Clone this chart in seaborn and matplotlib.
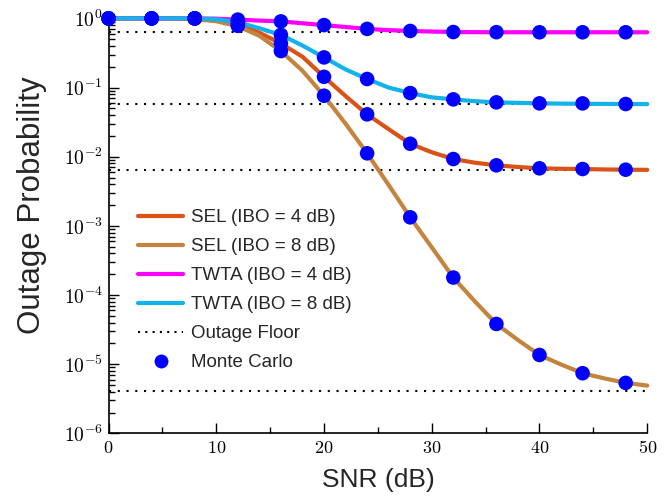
import math
import matplotlib
matplotlib.use('Agg')
import matplotlib.pyplot as plt
import seaborn as sns
import pandas as pd
from matplotlib.lines import Line2D
from matplotlib.ticker import FixedLocator, FuncFormatter, LogLocator, NullFormatter

# analytical curves, every 2 dB
snr = [0, 2, 4, 6, 8, 10, 12, 14, 16, 18, 20, 22, 24, 26, 28, 30, 32, 34, 36, 38, 40, 42, 44, 46, 48, 50]
sel_4 = [1.0, 1.0, 1.0, 0.998, 0.985, 0.93, 0.82, 0.62, 0.435, 0.279, 0.143, 0.0753, 0.041, 0.025, 0.0154,
         0.0116, 0.00926, 0.0082, 0.00751, 0.0071, 0.0068, 0.0067, 0.00664, 0.00655, 0.00649, 0.00646]
sel_8 = [1.0, 1.0, 1.0, 0.995, 0.975, 0.91, 0.77, 0.56, 0.337, 0.175, 0.0762, 0.030, 0.0112, 3.9e-3, 1.33e-3,
         4.9e-4, 1.79e-4, 8.1e-5, 3.82e-5, 2.24e-5, 1.36e-5, 9.9e-6, 7.41e-6, 6.25e-6, 5.37e-6, 4.91e-6]
twta_4 = [1.0, 1.0, 1.0, 1.0, 1.0, 0.99, 0.96, 0.93, 0.905, 0.85, 0.80, 0.75, 0.705, 0.675, 0.658,
          0.645, 0.636, 0.632, 0.631, 0.63, 0.63, 0.63, 0.63, 0.63, 0.63, 0.63]
twta_8 = [1.0, 1.0, 1.0, 1.0, 0.995, 0.97, 0.88, 0.72, 0.577, 0.405, 0.273, 0.183, 0.133, 0.100, 0.0833,
          0.0722, 0.0675, 0.0635, 0.0611, 0.060, 0.0591, 0.0586, 0.0582, 0.058, 0.0578, 0.0577]

# Monte Carlo points
snr_mc = [0, 4, 8, 12, 16, 20, 24, 28, 32, 36, 40, 44, 48]
sel_4_mc = [1.0, 1.0, 1.0, 0.83, 0.435, 0.143, 0.041, 0.0154, 0.00926, 0.00751, 0.0068, 0.00664, 0.00649]
sel_8_mc = [1.0, 1.0, 1.0, 0.78, 0.337, 0.0762, 0.0112, 1.33e-3, 1.79e-4, 3.82e-5, 1.36e-5, 7.41e-6, 5.37e-6]
twta_4_mc = [1.0, 1.0, 1.0, 0.96, 0.905, 0.80, 0.705, 0.658, 0.635, 0.632, 0.63, 0.63, 0.63]
twta_8_mc = [1.0, 1.0, 1.0, 0.89, 0.577, 0.273, 0.133, 0.0833, 0.0675, 0.0611, 0.0591, 0.059, 0.0578]

floors = [0.628, 0.0575, 0.00642, 4.16e-6]

labels = ['SEL (IBO = 4 dB)', 'SEL (IBO = 8 dB)', 'TWTA (IBO = 4 dB)', 'TWTA (IBO = 8 dB)']
colors = ['#D95319', '#C4843F', '#FF00FF', '#12B2EA']

sns.set_theme(style='ticks')
plt.rcParams['font.family'] = ['Liberation Sans', 'DejaVu Sans']
plt.rcParams['mathtext.fontset'] = 'cm'

fig = plt.figure(figsize=(6.7, 4.97), dpi=100)
ax = fig.add_axes([0.162, 0.128, 0.804, 0.835])

curves = [sel_4, sel_8, twta_4, twta_8]
for vals, lab, col in zip(curves, labels, colors):
    sns.lineplot(x=snr, y=vals, ax=ax, color=col, linewidth=3, label=lab, clip_on=False, zorder=3)

for fl in floors:
    ax.axhline(fl, color='black', linestyle=(0, (1, 3.2)), linewidth=1.5, zorder=2)

mc_all = pd.DataFrame({
    'snr': snr_mc * 4,
    'p': sel_4_mc + sel_8_mc + twta_4_mc + twta_8_mc,
})
sns.scatterplot(data=mc_all, x='snr', y='p', ax=ax, color='#0000FF', s=110, edgecolor='none',
                clip_on=False, zorder=5, legend=False)

ax.set_yscale('log')
ax.set_xlim(0, 50)
ax.set_ylim(1e-6, 1)

ax.xaxis.set_major_locator(FixedLocator([0, 10, 20, 30, 40, 50]))
ax.xaxis.set_minor_locator(FixedLocator([5, 15, 25, 35, 45]))
ax.xaxis.set_major_formatter(FuncFormatter(lambda v, p: r'$%d$' % v))
ax.yaxis.set_major_locator(LogLocator(base=10, numticks=10))
ax.yaxis.set_minor_locator(LogLocator(base=10, subs=range(2, 10), numticks=10))
ax.yaxis.set_minor_formatter(NullFormatter())
ax.yaxis.set_major_formatter(FuncFormatter(lambda v, p: r'$10^{%d}$' % round(math.log10(v))))

ax.tick_params(which='both', direction='in', colors='black', left=True, bottom=True)
ax.tick_params(which='major', length=7.5, width=1)
ax.tick_params(which='minor', length=4.5, width=1)
ax.tick_params(axis='x', pad=5, labelsize=13)
ax.tick_params(axis='y', pad=4, labelsize=14)

sns.despine(ax=ax)
for side in ['left', 'bottom']:
    ax.spines[side].set_color('black')
    ax.spines[side].set_linewidth(1.2)

ax.set_xlabel('SNR (dB)', fontsize=19, labelpad=8)
ax.set_ylabel('Outage Probability', fontsize=22.5)
ax.yaxis.set_label_coords(-0.115, 0.55)

handles = [Line2D([], [], color=c, linewidth=3) for c in colors]
handles.append(Line2D([], [], color='black', linestyle=(0, (1, 2.5)), linewidth=1.5))
handles.append(Line2D([], [], color='#0000FF', marker='o', linestyle='none', markersize=10, markeredgewidth=0))
leg_labels = labels + ['Outage Floor', 'Monte Carlo']
ax.legend(handles, leg_labels, loc='upper left', bbox_to_anchor=(0.055, 0.54), frameon=False,
          fontsize=13.5, handlelength=2.4, handletextpad=0.43, labelspacing=0.63,
          borderaxespad=0, borderpad=0)

fig.savefig('out.png', dpi=100)
